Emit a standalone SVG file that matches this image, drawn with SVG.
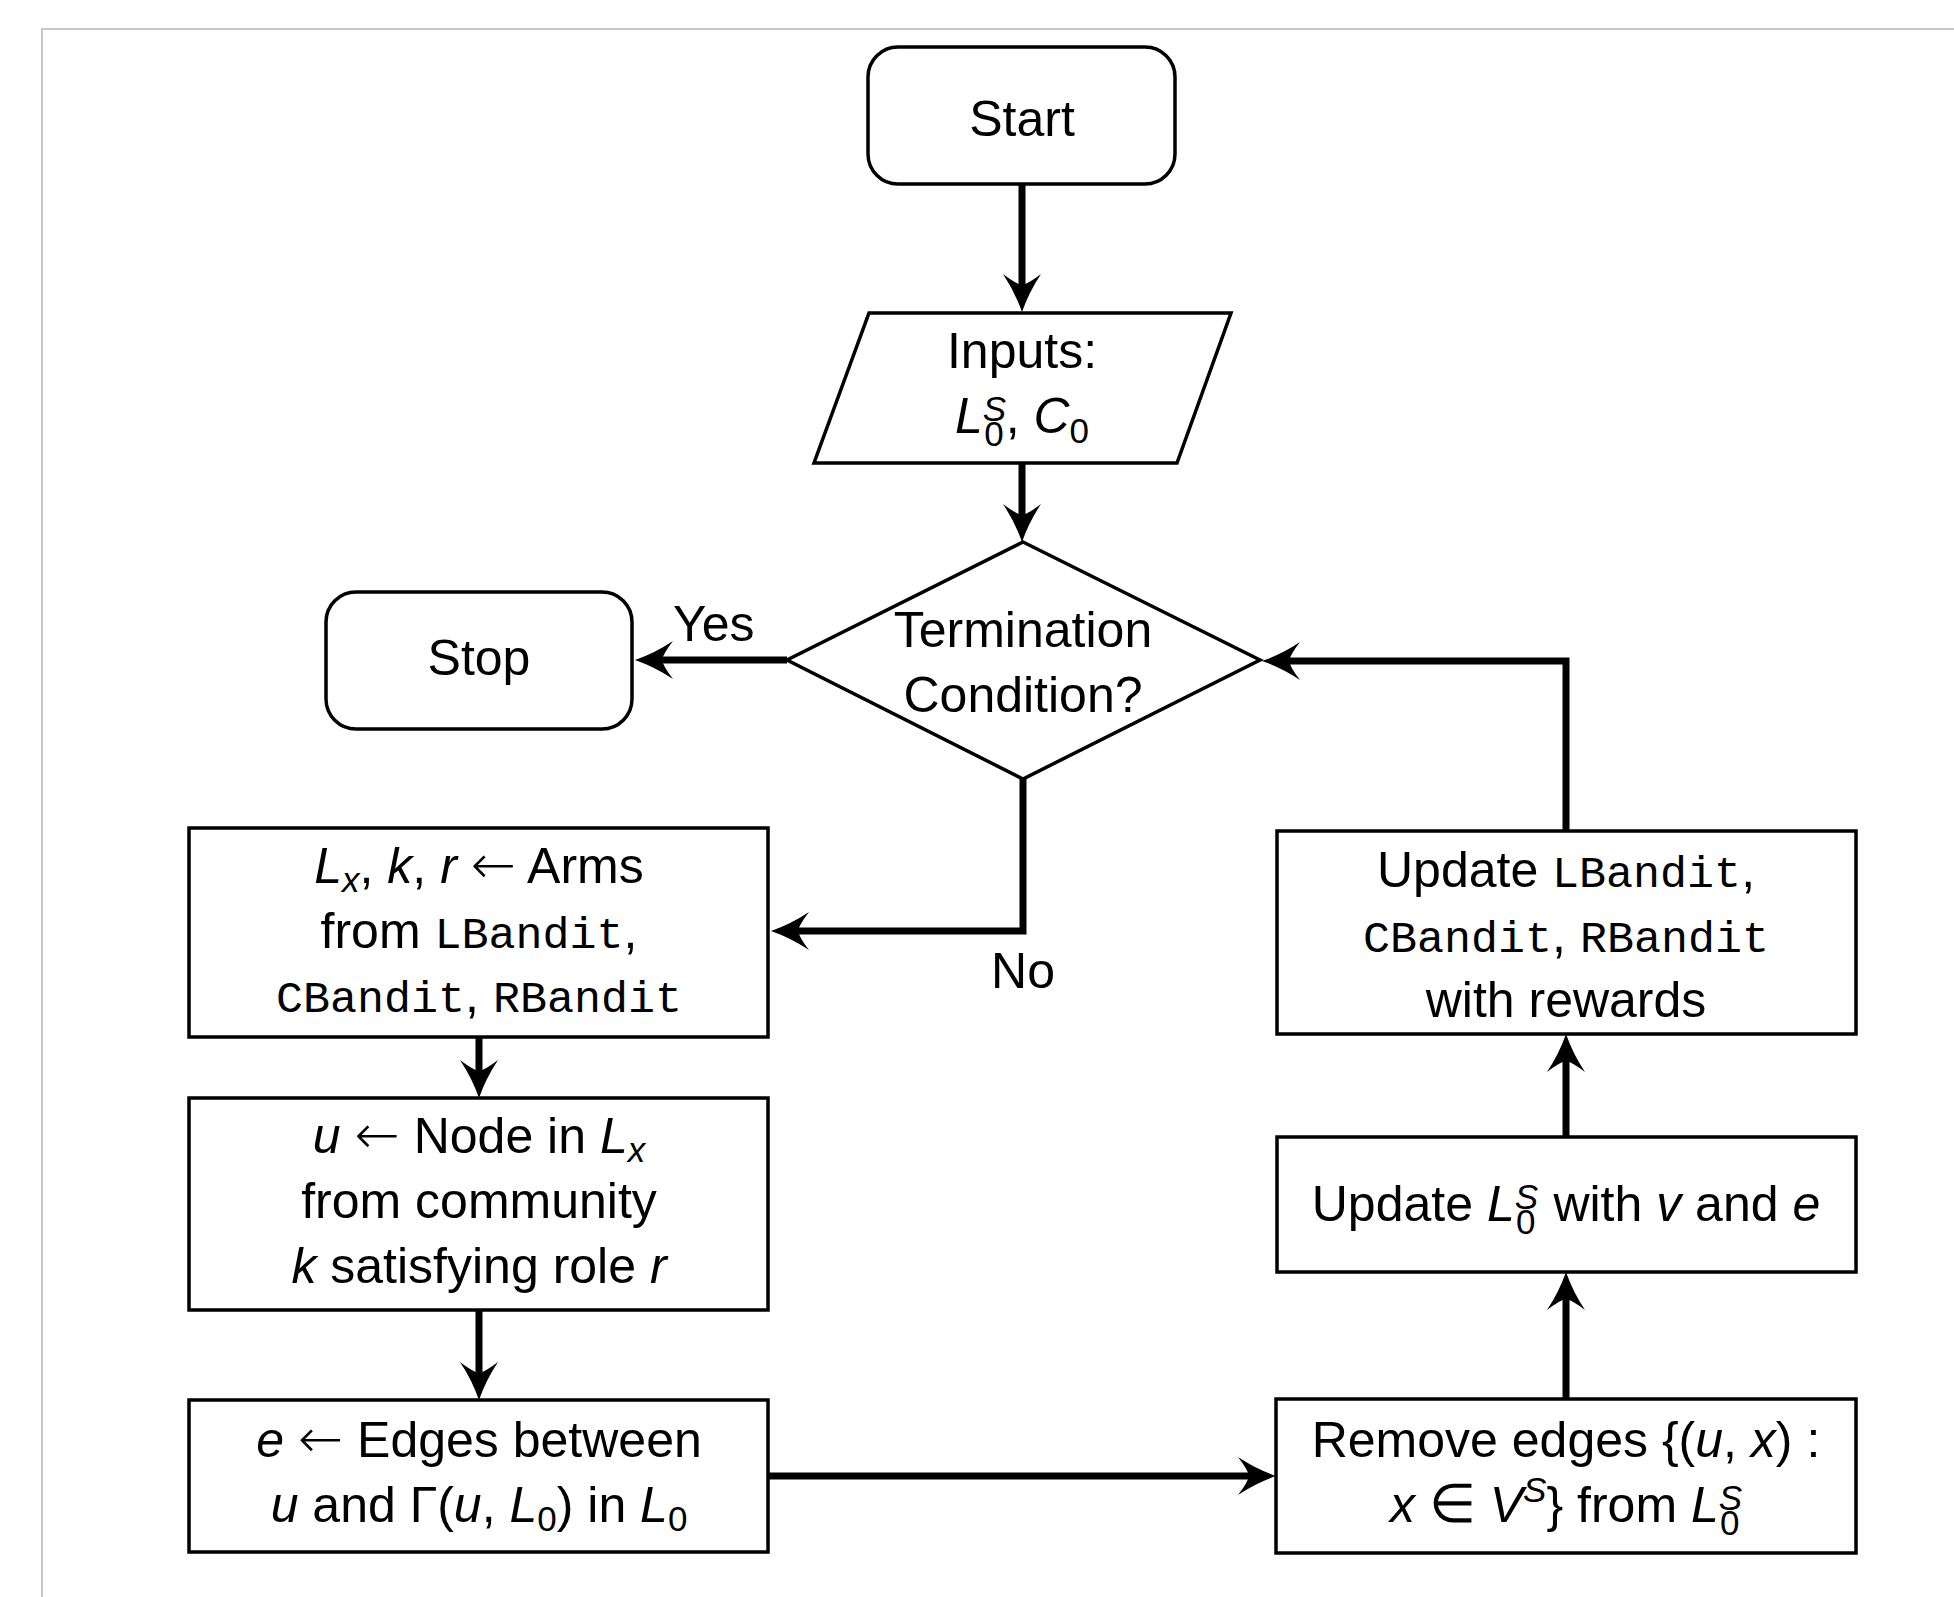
<svg xmlns="http://www.w3.org/2000/svg" width="1954" height="1597" viewBox="0 0 1954 1597">
<style>
.t { font-family: "Liberation Sans", Arial, sans-serif; font-size: 50px; fill: #000; text-anchor: middle; }
.st { text-anchor: start; }
.i { font-style: italic; }
.m { font-family: "Liberation Mono", "Courier New", monospace; font-size: 45px; }
.s { font-size: 35px; }
.a { font-family: "DejaVu Sans", sans-serif; font-size: 54px; font-weight: 300; }
.box { fill: #fff; stroke: #000; stroke-width: 3.5; }
.c { fill: none; stroke: #000; stroke-width: 7; stroke-linejoin: miter; marker-end: url(#ah); }
</style>
<defs>
<marker id="ah" viewBox="-40 -22 44 44" markerWidth="44" markerHeight="44" refX="-20" refY="0" orient="auto" markerUnits="userSpaceOnUse">
<path d="M0,0 Q-20,-7 -38,-19 Q-28,-6 -27,0 Q-28,6 -38,19 Q-20,7 0,0 Z" fill="#000"/>
</marker>
</defs>
<rect x="0" y="0" width="1954" height="1597" fill="#fff"/>
<rect x="42" y="29" width="2000" height="2000" fill="none" stroke="#c8c8c8" stroke-width="2"/>

<g id="connectors">
<path class="c" d="M1022 184 V292"/>
<path class="c" d="M1022 463 V522"/>
<path class="c" d="M787 660 H655"/>
<path class="c" d="M1023 779 V931 H791"/>
<path class="c" d="M479 1037 V1078"/>
<path class="c" d="M479 1310 V1380"/>
<path class="c" d="M768 1476 H1256"/>
<path class="c" d="M1566 1399 V1292"/>
<path class="c" d="M1566 1137 V1054"/>
<path class="c" d="M1566 831 V661 H1282"/>
<text class="t st" x="673" y="641">Yes</text>
<text class="t" x="1023" y="988">No</text>
</g>

<g id="start">
<rect class="box" x="868" y="47" width="307" height="137" rx="30" ry="30"/>
<text class="t" x="1022" y="136">Start</text>
</g>

<g id="inputs">
<polygon class="box" points="869,313 1231,313 1177,463 814,463"/>
<text class="t" x="1022" y="368">Inputs:</text>
<text class="t" x="1022" y="433"><tspan class="i">L</tspan><tspan class="s i" dy="-12">S</tspan><tspan class="s" dx="-22" dy="25">0</tspan><tspan dx="2" dy="-13">, </tspan><tspan class="i">C</tspan><tspan class="s" dy="10">0</tspan></text>
</g>

<g id="termination">
<polygon class="box" points="1023,542 1260,660 1023,779 787,660"/>
<text class="t" x="1023" y="647">Termination</text>
<text class="t" x="1023" y="712">Condition?</text>
</g>

<g id="stop">
<rect class="box" x="326" y="592" width="306" height="137" rx="30" ry="30"/>
<text class="t" x="479" y="675">Stop</text>
</g>

<g id="arms">
<rect class="box" x="189" y="828" width="579" height="209"/>
<text class="t" x="479" y="883"><tspan class="i">L</tspan><tspan class="s i" dy="9">x</tspan><tspan dy="-9">, </tspan><tspan class="i">k</tspan>, <tspan class="i">r</tspan> <tspan class="a">←</tspan> Arms</text>
<text class="t" x="479" y="948">from <tspan class="m">LBandit</tspan>,</text>
<text class="t" x="479" y="1012"><tspan class="m">CBandit</tspan>, <tspan class="m">RBandit</tspan></text>
</g>

<g id="node">
<rect class="box" x="189" y="1098" width="579" height="212"/>
<text class="t" x="479" y="1153"><tspan class="i">u</tspan> <tspan class="a">←</tspan> Node in <tspan class="i">L</tspan><tspan class="s i" dy="9">x</tspan></text>
<text class="t" x="479" y="1218">from community</text>
<text class="t" x="479" y="1283"><tspan class="i">k</tspan> satisfying role <tspan class="i">r</tspan></text>
</g>

<g id="edges">
<rect class="box" x="189" y="1400" width="579" height="152"/>
<text class="t" x="479" y="1457"><tspan class="i">e</tspan> <tspan class="a">←</tspan> Edges between</text>
<text class="t" x="479" y="1522"><tspan class="i">u</tspan> and Γ(<tspan class="i">u</tspan>, <tspan class="i">L</tspan><tspan class="s" dy="9">0</tspan><tspan dy="-9">) in </tspan><tspan class="i">L</tspan><tspan class="s" dy="9">0</tspan></text>
</g>

<g id="remove">
<rect class="box" x="1276" y="1399" width="580" height="154"/>
<text class="t" x="1566" y="1457">Remove edges {(<tspan class="i">u</tspan>, <tspan class="i">x</tspan>) :</text>
<text class="t" x="1566" y="1522"><tspan class="i">x</tspan> <tspan class="a">∈</tspan> <tspan class="i">V</tspan><tspan class="s i" dy="-20">S</tspan><tspan dy="20">} from </tspan><tspan class="i">L</tspan><tspan class="s i" dy="-12">S</tspan><tspan class="s" dx="-22" dy="25">0</tspan></text>
</g>

<g id="update-l0">
<rect class="box" x="1277" y="1137" width="579" height="135"/>
<text class="t" x="1566" y="1221">Update <tspan class="i">L</tspan><tspan class="s i" dy="-12">S</tspan><tspan class="s" dx="-22" dy="25">0</tspan><tspan dx="4" dy="-13"> with </tspan><tspan class="i">v</tspan> and <tspan class="i">e</tspan></text>
</g>

<g id="update-bandits">
<rect class="box" x="1277" y="831" width="579" height="203"/>
<text class="t" x="1566" y="887">Update <tspan class="m">LBandit</tspan>,</text>
<text class="t" x="1566" y="952"><tspan class="m">CBandit</tspan>, <tspan class="m">RBandit</tspan></text>
<text class="t" x="1566" y="1017">with rewards</text>
</g>
</svg>
